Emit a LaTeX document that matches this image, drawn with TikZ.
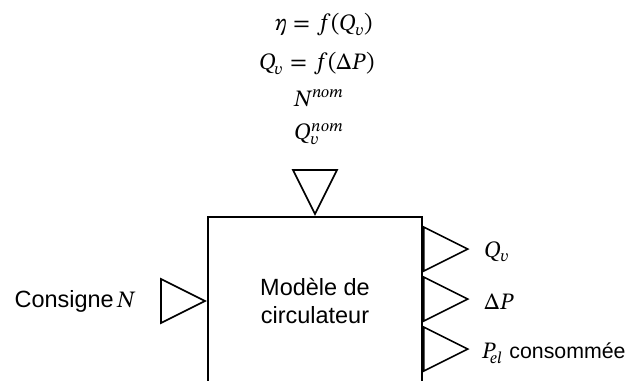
\documentclass[tikz,border=0pt]{standalone}
\usepackage{fontspec}
\usepackage{unicode-math}
\setmainfont{Liberation Sans}
\setmathfont{STIX Two Math}
\usetikzlibrary{shapes.geometric, positioning}

\begin{document}
\begin{tikzpicture}[
  x=0.75pt, y=-0.75pt,
  font=\fontsize{17.6pt}{21pt}\selectfont,
  block/.style={rectangle, draw, line width=1.4pt, minimum width=160.5pt, minimum height=126pt, align=center, inner sep=0pt},
  port/.style={isosceles triangle, isosceles triangle stretches, draw, line width=1.2pt, fill=white, inner sep=0pt, minimum width=33pt, minimum height=33pt},
  lbl/.style={inner sep=0pt}
]
  \useasboundingbox (0,0) rectangle (641,381);
  \clip (0,0) rectangle (641,381);
  % Block
  \node[block] (model) at (315,301) {Modèle de\\circulateur};
  % Ports
  \node[port, anchor=apex] (inN) at (model.west) {};
  \node[port, rotate=-90, anchor=apex] (param) at (model.north) {};
  \node[port, anchor=lower side] (outQ) at ([yshift=-24.75pt]model.north east) {};
  \node[port, anchor=lower side] (outDP) at ([yshift=-37.5pt]outQ.lower side) {};
  \node[port, anchor=lower side] (outP) at ([yshift=-37.5pt]outDP.lower side) {};
  % Labels
  \node[lbl, left=18pt of inN.lower side] (lN) {Consigne$\,N$};
  \node[lbl, right=11pt of outQ.apex, yshift=-2pt] (lQ) {$Q_v$};
  \node[lbl, right=11pt of outDP.apex, yshift=-2pt] (lDP) {$\Delta P$};
  \node[lbl, right=9pt of outP.apex, yshift=-3pt] (lP) {$P_{el}$ {\fontsize{16pt}{19pt}\selectfont consommée}};
  % Parameters
  \node (eta) at (324,25) {$\eta = f(Q_v)$};
  \node (qv) at (317,64) {$Q_v = f(\Delta P)$};
  \node (nnom) at (319,98) {$N^{nom}$};
  \node (qnom) at (319,134) {$Q_v^{nom}$};
\end{tikzpicture}
\end{document}
